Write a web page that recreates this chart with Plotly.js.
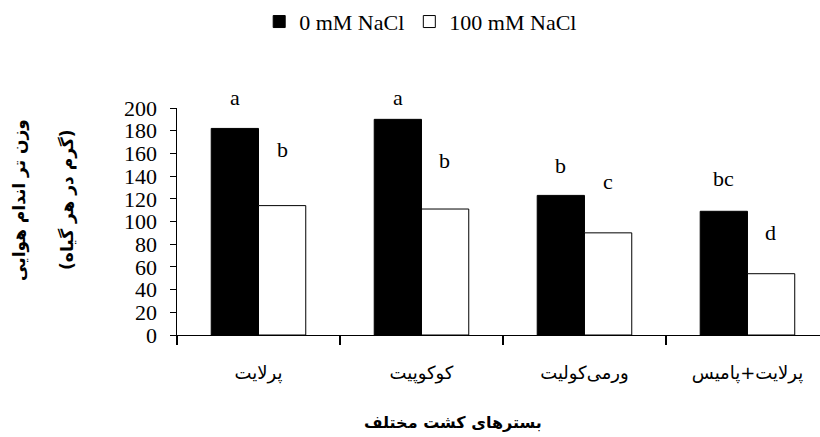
<!DOCTYPE html>
<html>
<head>
<meta charset="utf-8">
<script src="https://cdn.plot.ly/plotly-3.0.1.min.js"></script>
<style>html,body{margin:0;padding:0;background:#fff;}#chart{width:820px;height:437px;}</style>
</head>
<body>
<div id="chart"></div>
<script>
const categories = ["پرلایت", "کوکوپیت", "ورمی‌کولیت", "پرلایت+پامیس"];
const series0Name = "0 mM NaCl";
const series100Name = "100 mM NaCl";
const values0 = [182, 190, 123, 109];
const values100 = [114, 111, 90, 54];
const letters0 = ["a", "a", "b", "bc"];
const letters100 = ["b", "b", "c", "d"];
const letterY0 = [209, 209, 149, 138];
const letterY100 = [163, 154, 135, 90];
const yTitleLine1 = "وزن تر اندام هوایی";
const yTitleLine2 = "(گرم در هر گیاه)";
const xTitle = "بسترهای کشت مختلف";
const yMin = 0, yMax = 200;

const serif = "Liberation Serif, 'Times New Roman', DejaVu Serif, DejaVu Sans, serif";
const arab = "'DejaVu Sans', 'Liberation Serif', sans-serif";

const traces = [
  {type: "bar", name: series0Name, x: categories, y: values0,
   marker: {color: "#000", line: {color: "#000", width: 1}}},
  {type: "bar", name: series100Name, x: categories, y: values100,
   marker: {color: "#fff", line: {color: "#000", width: 1}}}
];

const toFrac = v => (v - yMin) / (yMax - yMin);
const annotations = [];
categories.forEach((c, i) => {
  annotations.push({x: c, y: toFrac(letterY0[i]), xref: "x", yref: "paper", text: letters0[i], showarrow: false, xshift: -23.5,
    yanchor: "middle", font: {family: serif, size: 22, color: "#000"}});
  annotations.push({x: c, y: toFrac(letterY100[i]), xref: "x", yref: "paper", text: letters100[i], showarrow: false, xshift: 23.5,
    yanchor: "middle", font: {family: serif, size: 22, color: "#000"}});
});
// axis titles
annotations.push({x: 0, y: 0.595, xref: "paper", yref: "paper", xanchor: "center", yanchor: "middle",
  xshift: -157, text: "<b>" + yTitleLine1 + "</b>", textangle: -90, showarrow: false,
  font: {family: arab, size: 17, color: "#000"}});
annotations.push({x: 0, y: 0.595, xref: "paper", yref: "paper", xanchor: "center", yanchor: "middle",
  xshift: -109, text: "<b>" + yTitleLine2 + "</b>", textangle: -90, showarrow: false,
  font: {family: arab, size: 17, color: "#000"}});
annotations.push({x: 0.43, y: -0.385, xref: "paper", yref: "paper", xanchor: "center", yanchor: "middle",
  text: "<b>" + xTitle + "</b>", showarrow: false,
  font: {family: arab, size: 16, color: "#000"}});

const layout = {
  width: 820, height: 437,
  margin: {l: 177, r: 0, t: 108, b: 102},
  paper_bgcolor: "#fff", plot_bgcolor: "#fff",
  font: {family: serif, color: "#000"},
  barmode: "group", bargap: 0.42, bargroupgap: 0,
  showlegend: true,
  legend: {orientation: "h", x: 0.379, xanchor: "center", y: 1.38, yanchor: "middle",
    font: {family: serif, size: 22, color: "#000"}, itemwidth: 30, traceorder: "normal"},
  xaxis: {
    type: "category", range: [-0.5, 3.445],
    showline: true, linecolor: "#000", linewidth: 1,
    ticks: "outside", tickson: "boundaries", ticklen: 9, tickcolor: "#000", tickwidth: 2,
    ticklabelstandoff: 21,
    tickfont: {family: arab, size: 18, color: "#000"},
    showgrid: false, zeroline: false
  },
  yaxis: {
    range: [yMin, yMax], dtick: 20,
    showline: true, linecolor: "#000", linewidth: 1.5,
    ticks: "outside", ticklen: 6, tickcolor: "#000",
    ticklabelstandoff: 8,
    tickfont: {family: serif, size: 22, color: "#000"},
    showgrid: false, zeroline: false
  },
  annotations: annotations
};

Plotly.newPlot("chart", traces, layout, {displayModeBar: false, staticPlot: true});
</script>
</body>
</html>
